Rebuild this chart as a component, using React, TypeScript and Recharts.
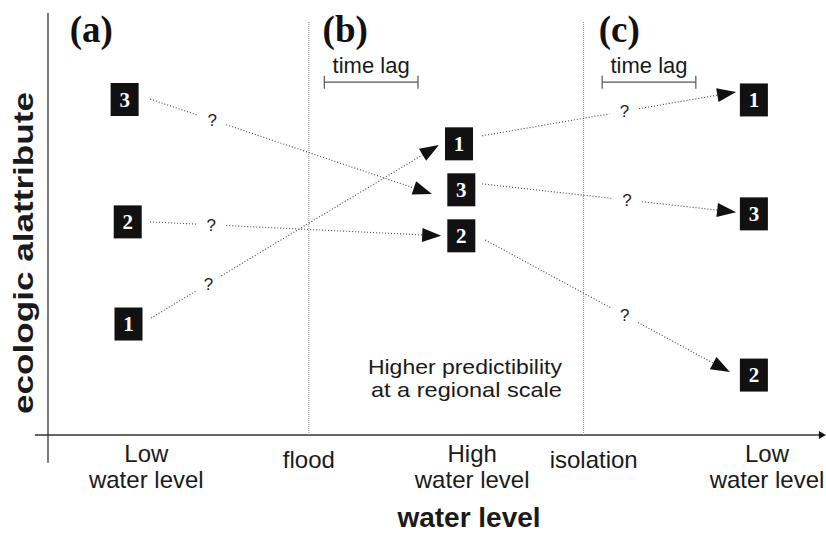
import React from 'react';
import { ComposedChart, XAxis, YAxis, Scatter, ReferenceLine, ReferenceDot, Label } from 'recharts';

const SANS = '"Liberation Sans", Arial, Helvetica, sans-serif';
const SERIF = '"Liberation Serif", "Times New Roman", serif';

// x: position along the hydrological cycle (0–100), y: level of the ecological attribute (0–100)
const stagePos = [12.7, 33.7, 54.8, 70.5, 92.9];
const stageLabels = [['Low', 'water level'], ['flood'], ['High', 'water level'], ['isolation'], ['Low', 'water level']];

const boundaryX = [33.7, 69.2];
const boundaryTop = 97.9;

const panelLabels = ['(a)', '(b)', '(c)'];
const panelX = [5.6, 38.4, 73.8];
const panelY = [93.1, 93.1, 93.1];

const boxLabels = ['3', '2', '1', '1', '3', '2', '1', '3', '2'];
const boxX = [9.9, 10.3, 10.4, 53.1, 53.4, 53.4, 91.2, 91.2, 91.2];
const boxY = [79.5, 50.5, 26.3, 69.0, 58.1, 47.2, 79.4, 52.4, 14.2];

const arrowFromX = [13.2, 13.2, 13.3, 56.1, 56.1, 56.5];
const arrowFromY = [79.6, 50.5, 27.7, 70.9, 59.5, 46.2];
const arrowToX = [49.6, 50.8, 50.5, 88.9, 88.9, 88.1];
const arrowToY = [57.1, 47.2, 68.7, 81.3, 52.8, 14.9];
const questionAt = [0.22, 0.21, 0.2, 0.56, 0.57, 0.57];

const lagStartX = [35.7, 71.6];
const lagEndX = [47.8, 83.7];
const lagY = 83.6;
const lagLabel = 'time lag';

const noteLines = ['Higher predictibility', 'at a regional scale'];
const noteWidths = [194, 191];
const noteX = 66.4;
const noteY = 14.4;

const axisStartX = -1.7;
const axisEndX = 100.5;
const yAxisTop = 100;
const yAxisBottom = -6.6;

const boxes = boxX.map((x, i) => ({ x, y: boxY[i], label: boxLabels[i] }));
const panels = panelX.map((x, i) => ({ x, y: panelY[i], label: panelLabels[i] }));

const StageTick = (props: any) => {
  const { x, y, payload } = props;
  const i = stagePos.indexOf(payload.value);
  const lines = stageLabels[i] || [];
  return (
    <g>
      {lines.map((l, k) => (
        <text
          key={k}
          x={x}
          y={lines.length > 1 ? y + 27 + k * 26 : y + 33}
          textAnchor="middle"
          fontFamily={SANS}
          fontSize={24}
          fill="#1a1a1a"
        >
          {l}
        </text>
      ))}
    </g>
  );
};

const arrowShape = (q: number) => (p: any) => {
  const { x1, y1, x2, y2 } = p;
  const dx = x2 - x1;
  const dy = y2 - y1;
  const len = Math.hypot(dx, dy) || 1;
  const ux = dx / len;
  const uy = dy / len;
  const nx = -uy;
  const ny = ux;
  const L = 19;
  const W = 7;
  const G = 15;
  const bx = x2 - ux * L;
  const by = y2 - uy * L;
  const qx = x1 + dx * q;
  const qy = y1 + dy * q;
  const ls = { stroke: '#444', strokeWidth: 1.1, strokeDasharray: '1 2' };
  return (
    <g>
      <line x1={x1} y1={y1} x2={qx - ux * G} y2={qy - uy * G} {...ls} />
      <line x1={qx + ux * G} y1={qy + uy * G} x2={bx} y2={by} {...ls} />
      <polygon
        points={`${x2},${y2} ${bx + nx * W},${by + ny * W} ${bx - nx * W},${by - ny * W}`}
        fill="#111"
      />
      <text x={qx} y={qy + 6} textAnchor="middle" fontFamily={SANS} fontSize={17} fill="#222">
        ?
      </text>
    </g>
  );
};

const lagShape = (p: any) => {
  const { x1, y1, x2 } = p;
  return (
    <g stroke="#555" strokeWidth={1.2}>
      <line x1={x1} y1={y1} x2={x2} y2={y1} />
      <line x1={x1} y1={y1 - 6.5} x2={x1} y2={y1 + 6.5} />
      <line x1={x2} y1={y1 - 6.5} x2={x2} y2={y1 + 6.5} />
      <text
        x={(x1 + x2) / 2}
        y={y1 - 9}
        textAnchor="middle"
        fontFamily={SANS}
        fontSize={22}
        fill="#1a1a1a"
        stroke="none"
      >
        {lagLabel}
      </text>
    </g>
  );
};

const xAxisShape = (p: any) => {
  const { x1, y1, x2 } = p;
  return (
    <g>
      <line x1={x1} y1={y1} x2={x2 - 4} y2={y1} stroke="#333" strokeWidth={1.5} />
      <polygon points={`${x2},${y1} ${x2 - 7},${y1 - 4} ${x2 - 7},${y1 + 4}`} fill="#111" />
    </g>
  );
};

const boxShape = (p: any) => {
  const { cx, cy, payload } = p;
  return (
    <g>
      <rect x={cx - 14} y={cy - 16.5} width={28} height={33} fill="#111" />
      <text
        x={cx}
        y={cy + 7}
        textAnchor="middle"
        fontFamily={SERIF}
        fontWeight="bold"
        fontSize={21}
        fill="#fff"
      >
        {payload.label}
      </text>
    </g>
  );
};

const panelShape = (p: any) => {
  const { cx, cy, payload } = p;
  return (
    <text
      x={cx}
      y={cy}
      textAnchor="middle"
      fontFamily={SERIF}
      fontWeight="bold"
      fontSize={37}
      fill="#111"
    >
      {payload.label}
    </text>
  );
};

const noteShape = (p: any) => {
  const { cx, cy } = p;
  return (
    <g>
      {noteLines.map((l, k) => (
        <text
          key={k}
          x={cx}
          y={cy + k * 23}
          textAnchor="end"
          fontFamily={SANS}
          fontSize={21}
          fill="#1a1a1a"
          textLength={noteWidths[k]}
          lengthAdjust="spacingAndGlyphs"
        >
          {l}
        </text>
      ))}
    </g>
  );
};

export default function App() {
  return (
    <div style={{ position: 'absolute', left: 0, top: 0, background: '#fff' }}>
      <ComposedChart width={826} height={533} margin={{ top: 13, right: 4, left: 0, bottom: 0 }}>
        <XAxis
          type="number"
          dataKey="x"
          domain={[0, 100]}
          allowDataOverflow
          ticks={stagePos}
          interval={0}
          tickLine={false}
          axisLine={false}
          tickSize={0}
          tickMargin={0}
          height={98}
          tick={<StageTick />}
        >
          <Label
            content={(p: any) => {
              const vb = p.viewBox || { x: 48, y: 435, width: 774, height: 98 };
              return (
                <text
                  x={vb.x + 421}
                  y={vb.y + 92}
                  textAnchor="middle"
                  fontFamily={SANS}
                  fontWeight="bold"
                  fontSize={28}
                  fill="#1a1a1a"
                >
                  water level
                </text>
              );
            }}
          />
        </XAxis>
        <YAxis
          type="number"
          dataKey="y"
          domain={[0, 100]}
          allowDataOverflow
          width={48}
          tick={false}
          tickLine={false}
          axisLine={false}
        >
          <Label
            content={(p: any) => {
              const vb = p.viewBox || { x: 0, y: 13, width: 48, height: 422 };
              const tx = vb.x + 33;
              const ty = vb.y + vb.height / 2 + 29;
              return (
                <text
                  x={tx}
                  y={ty}
                  transform={`rotate(-90, ${tx}, ${ty})`}
                  textAnchor="middle"
                  fontFamily={SANS}
                  fontWeight="bold"
                  fontSize={27}
                  fill="#1a1a1a"
                  textLength={322}
                  lengthAdjust="spacingAndGlyphs"
                >
                  ecologic alattribute
                </text>
              );
            }}
          />
        </YAxis>

        <ReferenceLine
          segment={[{ x: 0, y: yAxisTop }, { x: 0, y: yAxisBottom }]}
          ifOverflow="visible"
          stroke="#333"
          strokeWidth={1.3}
        />
        <ReferenceLine
          segment={[{ x: axisStartX, y: 0 }, { x: axisEndX, y: 0 }]}
          ifOverflow="visible"
          shape={xAxisShape}
        />
        {boundaryX.map((bx, i) => (
          <ReferenceLine
            key={`b${i}`}
            segment={[{ x: bx, y: 0 }, { x: bx, y: boundaryTop }]}
            ifOverflow="visible"
            stroke="#8a8a8a"
            strokeWidth={1}
            strokeDasharray="1 1"
          />
        ))}
        {lagStartX.map((lx, i) => (
          <ReferenceLine
            key={`l${i}`}
            segment={[{ x: lx, y: lagY }, { x: lagEndX[i], y: lagY }]}
            ifOverflow="visible"
            shape={lagShape}
          />
        ))}
        {arrowFromX.map((fx, i) => (
          <ReferenceLine
            key={`a${i}`}
            segment={[{ x: fx, y: arrowFromY[i] }, { x: arrowToX[i], y: arrowToY[i] }]}
            ifOverflow="visible"
            shape={arrowShape(questionAt[i])}
          />
        ))}
        <ReferenceDot x={noteX} y={noteY} ifOverflow="visible" shape={noteShape} />

        <Scatter data={panels} shape={panelShape} isAnimationActive={false} />
        <Scatter data={boxes} shape={boxShape} isAnimationActive={false} />
      </ComposedChart>
    </div>
  );
}
